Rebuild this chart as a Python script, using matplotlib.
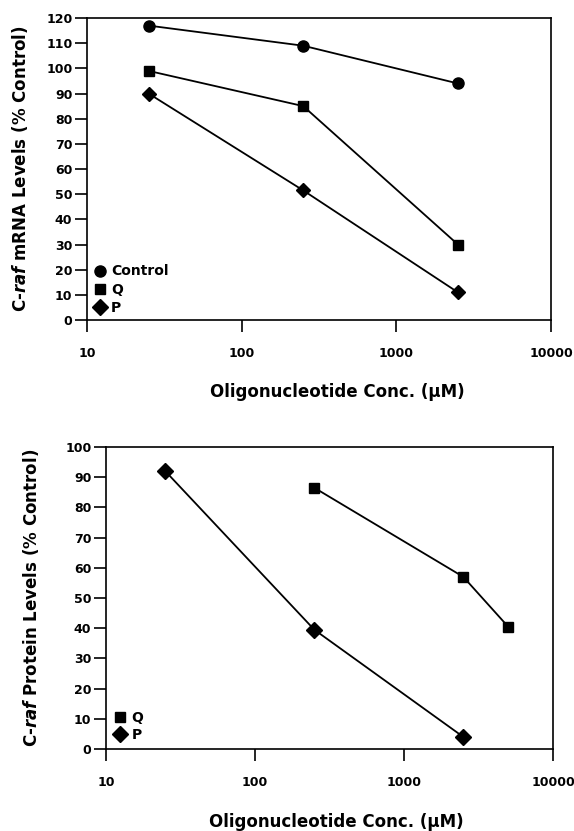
import matplotlib
matplotlib.use("Agg")
import matplotlib.pyplot as plt

plt.rcParams['font.family'] = ['DejaVu Sans']
plt.rcParams['font.weight'] = 'bold'
plt.rcParams['mathtext.fontset'] = 'dejavusans'

# top panel: mRNA levels
conc_top = [25, 250, 2500]
control_mrna = [117, 109, 94]
q_mrna = [99, 85, 30]
p_mrna = [90, 51.5, 11]

# bottom panel: protein levels
conc_q_prot = [250, 2500, 5000]
q_prot = [86.5, 57, 40.5]
conc_p_prot = [25, 250, 2500]
p_prot = [92, 39.5, 4]

xticks = [10, 100, 1000, 10000]
xlabel = "Oligonucleotide Conc. (\u03bcM)"

fig = plt.figure(figsize=(5.74, 8.31), dpi=100)
ax1 = fig.add_axes([0.1516, 0.6149, 0.8084, 0.3634])
ax2 = fig.add_axes([0.1847, 0.0987, 0.7787, 0.3634])

mk = dict(color='black', lw=1.3)

def style(ax, ymax):
    ax.set_xscale('log')
    ax.set_xlim(10, 10000)
    ax.set_ylim(0, ymax)
    ax.set_xticks(xticks)
    ax.set_xticklabels([str(v) for v in xticks])
    ax.xaxis.set_minor_locator(matplotlib.ticker.NullLocator())
    ax.set_yticks(range(0, ymax + 1, 10))
    ax.tick_params(direction='out', length=8.5, width=1.2, labelsize=9)
    ax.tick_params(axis='x', pad=11)
    ax.tick_params(axis='y', pad=2)
    for s in ax.spines.values():
        s.set_linewidth(1.2)
    ax.set_xlabel(xlabel, fontsize=12, fontweight='bold')

ax1.plot(conc_top, control_mrna, marker='o', ms=8, **mk)
ax1.plot(conc_top, q_mrna, marker='s', ms=7.5, **mk)
ax1.plot(conc_top, p_mrna, marker='D', ms=7.5, **mk)
style(ax1, 120)
ax1.set_ylabel(r"C-$\mathbfit{raf}$ mRNA Levels (% Control)", fontsize=12,
               fontweight='bold')
ax1.yaxis.set_label_coords(-0.123, 0.5)
ax1.xaxis.set_label_coords(0.539, -0.209)
h1 = [ax1.plot([], [], 'o', color='black', ms=8)[0],
      ax1.plot([], [], 's', color='black', ms=7.5)[0],
      ax1.plot([], [], 'D', color='black', ms=8)[0]]
ax1.legend(h1, ['Control', 'Q', 'P'], loc='lower left', frameon=False,
           handlelength=1, handletextpad=0.3, labelspacing=0.3,
           borderaxespad=0.2, fontsize=10, bbox_to_anchor=(-0.005, -0.01))

ax2.plot(conc_q_prot, q_prot, marker='s', ms=7.5, **mk)
ax2.plot(conc_p_prot, p_prot, marker='D', ms=8, **mk)
style(ax2, 100)
ax2.set_ylabel(r"C-$\mathbfit{raf}$ Protein Levels (% Control)", fontsize=12,
               fontweight='bold')
ax2.yaxis.set_label_coords(-0.145, 0.5)
ax2.xaxis.set_label_coords(0.515, -0.212)
h2 = [ax2.plot([], [], 's', color='black', ms=7.5)[0],
      ax2.plot([], [], 'D', color='black', ms=8)[0]]
ax2.legend(h2, ['Q', 'P'], loc='lower left', frameon=False,
           handlelength=1, handletextpad=0.3, labelspacing=0.25,
           borderaxespad=0.3, fontsize=10, bbox_to_anchor=(-0.005, -0.01))

fig.savefig("out.png", dpi=100)
